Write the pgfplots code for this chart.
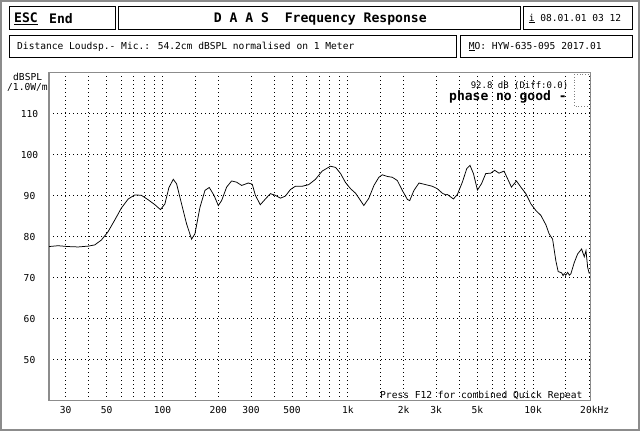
\documentclass[border=0pt]{standalone}
\usepackage{pgfplots}
\pgfplotsset{compat=1.18}
\usepackage{fontspec}
\setmainfont{DejaVu Sans Mono}
\newcommand{\txt}{\fontsize{9.6pt}{11pt}\selectfont}
\newcommand{\smalltxt}{\fontsize{9pt}{10pt}\selectfont}
\newcommand{\bigf}{\fontsize{13.1pt}{14pt}\selectfont\bfseries}

\begin{document}
\begin{tikzpicture}
\begin{scope}[x=1pt,y=-1pt]
\useasboundingbox (0,0) rectangle (640,431);
% outer frame
\draw[black!45, line width=2pt] (1,1) rectangle (638.5,429.5);
% header boxes
\begin{scope}[double, line width=0.7pt, double distance=0.7pt]
\draw (9,6.7) rectangle (115.5,29.3);
\draw (118.4,6.7) rectangle (520.4,29.3);
\draw (523.7,6.7) rectangle (632.7,29.3);
\draw (9,35) rectangle (456,57.3);
\draw (460,35) rectangle (632.7,57.3);
\end{scope}
\node[anchor=west, inner sep=0] at (14,18.5) {\bigf\underline{ESC}};
\node[anchor=west, inner sep=0] at (49,18.5) {\bigf End};
\node[inner sep=0] at (320.3,19) {\bigf D A A S\ \ Frequency Response};
\node[anchor=west, inner sep=0] at (528.6,18.5) {\txt\underline{i} 08.01.01 03 12};
\node[anchor=west, inner sep=0] at (17,46.5) {\txt Distance Loudsp.- Mic.: 54.2cm dBSPL normalised on 1 Meter};
\node[anchor=west, inner sep=0] at (468.6,46.5) {\txt\underline{M}O: HYW-635-095 2017.01};
% axis unit
\node[anchor=west, inner sep=0] at (13,77) {\txt dBSPL};
\node[anchor=west, inner sep=0] at (7,87) {\txt /1.0W/m};
\end{scope}

\begin{axis}[
    at={(49pt,-400.7pt)}, anchor=south west,
    scale only axis, width=541.5pt, height=328pt,
    xmode=log, xmin=24.4, xmax=20400,
    ymin=40, ymax=120,
    axis line style={draw=black!45, line width=1.5pt},
    grid=major,
    major grid style={black, line width=0.8pt, dash pattern=on 0.8pt off 3.2pt},
    major tick length=0pt,
    xtick={30,40,50,60,70,80,90,100,150,200,300,400,500,600,700,800,900,1000,1500,2000,3000,4000,5000,6000,7000,8000,9000,10000,15000,20000},
    xticklabels={30,,50,,,,,100,,200,300,,500,,,,,1k,,2k,3k,,5k,,,,,10k,,20k\rlap{Hz}},
    ytick={50,60,70,80,90,100,110},
    yticklabels={50,60,70,80,90,100,110},
    tick label style={font=\txt},
    xticklabel style={anchor=center, yshift=-9.5pt},
    yticklabel style={anchor=center, xshift=-19.5pt},
]
\addplot[black, line width=0.75pt] coordinates {
(24.4,77.6) (27.3,77.8) (30.9,77.6) (35.0,77.5) (39.7,77.7) (43.1,78.0) (46.8,79.2)
(50.8,81.2) (55.3,84.1) (60.0,87.0) (65.3,89.2) (70.9,90.2) (76.9,90.1) (83.7,89.0)
(91.0,87.8) (97.5,86.6) (103,88.0) (108.3,92.0) (114.3,94.0) (119.1,92.9) (126.7,88.0)
(134.9,83.1) (143.5,79.4) (149.6,80.7) (159.3,87.2) (169.5,91.3) (178.8,92.0) (189.6,90.1)
(200,87.6) (208.4,88.8) (221.8,92.1) (236,93.6) (251.2,93.3) (267.3,92.5) (290.4,93.1)
(305,92.8) (317,90.1) (337,87.8) (359,89.2) (382,90.5) (406,90.1) (433,89.4) (460,89.9)
(490,91.5) (521,92.3) (567,92.3) (615,92.7) (669,94.0) (727,96.0) (806,97.2) (859,96.9)
(914,95.4) (972,93.2) (1035,91.7) (1101,90.6) (1172,88.8) (1220,87.6) (1299,89.4)
(1383,92.5) (1471,94.5) (1535,95.1) (1633,94.7) (1738,94.5) (1850,93.7) (1968,91.3)
(2095,89.1) (2157,88.8) (2275,91.3) (2421,93.1) (2630,92.7) (2859,92.3) (3043,91.7)
(3238,90.6) (3375,90.2) (3446,90.3) (3713,89.2) (3901,90.3) (4151,93.3) (4383,96.6)
(4564,97.4) (4762,95.4) (5005,91.4) (5263,92.9) (5550,95.4) (5906,95.5) (6204,96.2)
(6546,95.5) (6969,96.0) (7271,94.2) (7638,92.1) (8130,93.6) (8583,92.1) (9137,90.5)
(9724,88.0) (10347,86.4) (11012,85.2) (11719,82.9) (12199,80.7) (12735,79.4) (13266,74.1)
(13649,71.5) (14250,71.2) (14500,70.5) (14718,71.0) (15000,70.6) (15358,71.3) (15700,70.6)
(15996,71.0) (16673,73.7) (17388,75.8) (18267,77.0) (18880,75.1) (19288,76.6) (19695,72.5)
(20090,71.0)
};
\end{axis}

\begin{scope}[x=1pt,y=-1pt]
\draw[black!50, dotted, line width=0.8pt] (574,74) rectangle (590,106);
\node[anchor=west, inner sep=0] at (470.6,86) {\smalltxt 92.8 dB (Diff:0.0)};
\node[anchor=west, inner sep=0] at (449,96.7) {\fontsize{13pt}{14pt}\selectfont\bfseries phase no good -};
\node[anchor=west, inner sep=0] at (380,395.5) {\txt Press F12 for combined Quick Repeat};
\end{scope}
\end{tikzpicture}
\end{document}
